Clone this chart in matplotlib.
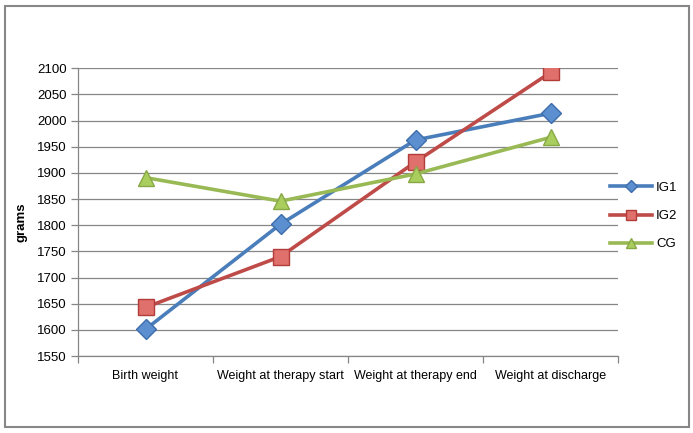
import matplotlib
matplotlib.use("Agg")
import matplotlib.pyplot as plt
import numpy as np
from matplotlib.patches import Rectangle

plt.rcParams['font.family'] = ['Liberation Sans', 'DejaVu Sans']

# data
categories = ['Birth weight', 'Weight at therapy start', 'Weight at therapy end', 'Weight at discharge']
ig1 = [1601, 1802, 1963, 2014]
ig2 = [1643, 1740, 1921, 2092]
cg = [1891, 1846, 1898, 1968]
yticks = list(range(1550, 2101, 50))

fig = plt.figure(figsize=(6.93, 4.33), dpi=100)
ax = fig.add_axes([78/693, 1-356/433, 540/693, 287.7/433])

x = np.arange(len(categories))
ax.plot(x, ig1, color='#4A7EBB', lw=2.6, marker='D', ms=10,
        mfc='#5B8FD0', mec='#3D6DAA', mew=1, label='IG1', zorder=3)
ax.plot(x, ig2, color='#BE4B48', lw=2.6, marker='s', ms=11,
        mfc='#E0706C', mec='#B23C39', mew=1, label='IG2', zorder=3)
ax.plot(x, cg, color='#98B954', lw=2.6, marker='^', ms=12,
        mfc='#A9CE5E', mec='#88A845', mew=1, label='CG', zorder=3)

ax.set_xlim(-0.5, len(categories) - 0.5)
ax.set_ylim(yticks[0], yticks[-1])
ax.set_yticks(yticks)
ax.set_xticks(x)
ax.set_xticklabels(categories, fontsize=9)
ax.set_xticks(np.arange(-0.5, len(categories)), minor=True)
ax.tick_params(axis='x', which='major', length=0, pad=10)
ax.tick_params(axis='x', which='minor', length=5, color='#868686', width=0.9)
ax.tick_params(axis='y', length=5, color='#868686', width=0.9, labelsize=9.5, pad=3)
ax.grid(axis='y', color='#868686', lw=0.9)
for s in ['top', 'right']:
    ax.spines[s].set_visible(False)
for s in ['left', 'bottom']:
    ax.spines[s].set_color('#868686')
    ax.spines[s].set_linewidth(0.9)

fig.text(22/693, 1-222/433, 'grams', rotation=90, ha='center', va='center',
         fontsize=9.5, fontweight='bold')

fig.legend(loc='center left', bbox_to_anchor=(598/693, 1-216/433), frameon=False,
           fontsize=9.5, markerscale=0.6, handlelength=3.2, handletextpad=0.3,
           labelspacing=1.2)

fig.patches.append(Rectangle((5/693, 6/433), 684/693, 421/433, transform=fig.transFigure,
                             fill=False, edgecolor='#878787', lw=1.5))

fig.savefig('out.png', dpi=100)
